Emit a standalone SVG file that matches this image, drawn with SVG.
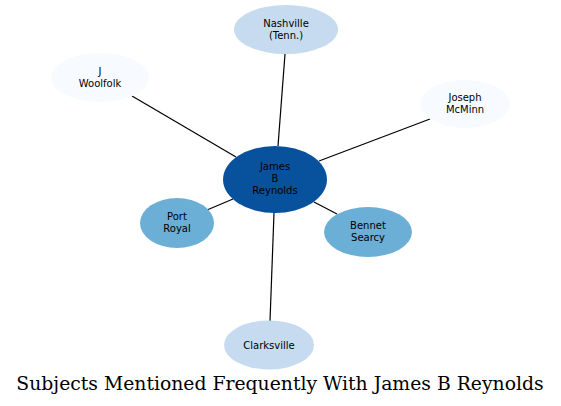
<svg xmlns="http://www.w3.org/2000/svg" width="561" height="406" viewBox="0 0 561 406">
<style>
.n text{font-family:"DejaVu Sans",sans-serif;font-size:10px;text-anchor:middle;fill:#000}
.e line{stroke:#000;stroke-width:1.2}
.title{font-family:"DejaVu Serif",serif;font-size:18.8px;text-anchor:middle;fill:#000}
</style>
<rect width="561" height="406" fill="#fff"/>
<g class="e" id="edges">
<line x1="278" y1="146" x2="285" y2="54"/>
<line x1="236" y1="157" x2="132" y2="96"/>
<line x1="319" y1="161" x2="430" y2="119"/>
<line x1="233" y1="199" x2="207" y2="210"/>
<line x1="314" y1="202" x2="337" y2="214"/>
<line x1="274" y1="213" x2="270" y2="321"/>
</g>
<g class="n" id="n-nashville"><ellipse cx="286" cy="29.5" rx="52" ry="24.5" fill="#c6dbef"/><text x="286" y="26.5">Nashville</text><text x="286" y="38.5">(Tenn.)</text></g>
<g class="n" id="n-woolfolk"><ellipse cx="100" cy="77.5" rx="49" ry="24.5" fill="#f7fbff"/><text x="100" y="74.5">J</text><text x="100" y="86.5">Woolfolk</text></g>
<g class="n" id="n-mcminn"><ellipse cx="465" cy="104" rx="45" ry="24" fill="#f7fbff"/><text x="465" y="101">Joseph</text><text x="465" y="113">McMinn</text></g>
<g class="n" id="n-reynolds"><ellipse cx="275" cy="179.5" rx="52" ry="33.5" fill="#08519c"/><text x="275" y="170">James</text><text x="275" y="182">B</text><text x="275" y="194">Reynolds</text></g>
<g class="n" id="n-portroyal"><ellipse cx="177" cy="223" rx="37" ry="25" fill="#6baed6"/><text x="177" y="220">Port</text><text x="177" y="232">Royal</text></g>
<g class="n" id="n-searcy"><ellipse cx="368" cy="232" rx="44" ry="25" fill="#6baed6"/><text x="368" y="229">Bennet</text><text x="368" y="241">Searcy</text></g>
<g class="n" id="n-clarksville"><ellipse cx="269" cy="345" rx="45" ry="24.5" fill="#c6dbef"/><text x="269" y="348.5">Clarksville</text></g>
<text class="title" x="280" y="390">Subjects Mentioned Frequently With James B Reynolds</text>
</svg>
